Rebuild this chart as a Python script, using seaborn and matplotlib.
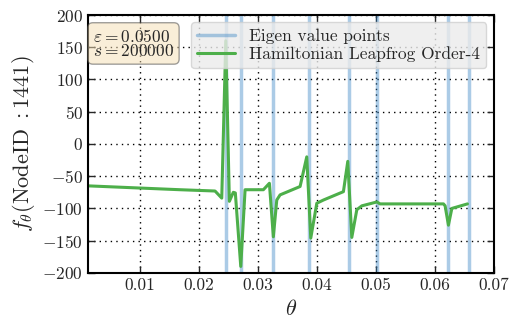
import matplotlib
matplotlib.use("Agg")
import matplotlib.pyplot as plt
import numpy as np
import pandas as pd
import seaborn as sns

# eigenvalue positions (vertical lines)
eigen_thetas = [0.02453, 0.02707, 0.03259, 0.03869, 0.04547, 0.05022, 0.06215, 0.06576]

# Hamiltonian leapfrog order-4 curve
theta = [0.00119, 0.01678, 0.02271, 0.02385, 0.02453, 0.02514, 0.02581, 0.02615,
         0.02707, 0.02780, 0.03090, 0.03192, 0.03259, 0.03317, 0.03373, 0.03712,
         0.03825, 0.03893, 0.03995, 0.04107, 0.04446, 0.04520, 0.04588, 0.04673,
         0.04758, 0.05012, 0.05068, 0.06141, 0.06169, 0.06225, 0.06283, 0.06547]
f_theta = [-65, -71, -73, -84, 160, -89, -75, -76,
           -190, -71, -71, -61, -144, -87, -79, -66,
           -20, -146, -92, -87, -74, -27, -145, -102,
           -96, -90, -93, -93, -96, -126, -100, -93]

yticks = np.arange(-200, 201, 50)
xticks = [0.01, 0.02, 0.03, 0.04, 0.05, 0.06, 0.07]

sns.set_style("ticks")
plt.rcParams["font.family"] = "serif"
plt.rcParams["font.serif"] = ["cmr10", "DejaVu Serif"]
plt.rcParams["mathtext.fontset"] = "cm"
plt.rcParams["axes.formatter.use_mathtext"] = True
plt.rcParams["axes.unicode_minus"] = True

fig = plt.figure(figsize=(5.18, 3.34), dpi=100)
ax = fig.add_axes([0.170, 0.183, 0.784, 0.772])

for i, th in enumerate(eigen_thetas):
    ax.axvline(th, color="#2f7fc1", alpha=0.4, linewidth=2.5,
               label="Eigen value points" if i == 0 else None, zorder=1)

df = pd.DataFrame({"theta": theta, "f": f_theta})
sns.lineplot(data=df, x="theta", y="f", ax=ax, color="#4daf4a", linewidth=2.2,
             label="Hamiltonian Leapfrog Order-4", zorder=2)

ax.set_xlim(0.0012, 0.07)
ax.set_ylim(-200, 200)
ax.set_xticks(xticks)
ax.set_yticks(yticks)
ax.set_xticklabels([f"{v:.2f}" for v in xticks])
ax.tick_params(direction="in", top=True, right=True, length=5, width=1, labelsize=12.5)
ax.grid(True, linestyle=(0, (1, 3)), color="black", linewidth=1)
for s in ax.spines.values():
    s.set_linewidth(1.5)
    s.set_color("black")

ax.set_xlabel(r"$\theta$", fontsize=16)
ax.set_ylabel(r"$f_\theta(\mathrm{NodeID}\ {:}1441)$", fontsize=16)

leg = ax.legend(loc="upper left", bbox_to_anchor=(0.245, 0.985), fontsize=12.5,
                frameon=True, fancybox=True, framealpha=0.8, borderpad=0.35,
                handlelength=2.2, labelspacing=0.15, borderaxespad=0.2)
leg.get_frame().set_facecolor("#ebebeb")
leg.get_frame().set_edgecolor("#d0d0d0")

ax.text(0.012, 0.95, "$\\varepsilon = 0.0500$\n$s = 200000$", transform=ax.transAxes,
        fontsize=12.5, va="top", ha="left", linespacing=0.85,
        bbox=dict(boxstyle="round,pad=0.3", facecolor="wheat", alpha=0.5, edgecolor="#444444"))

fig.savefig("out.png", dpi=100)
